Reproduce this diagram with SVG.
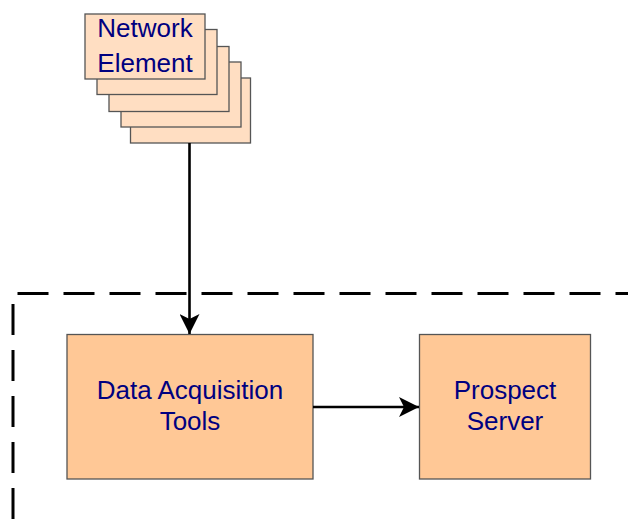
<svg xmlns="http://www.w3.org/2000/svg" width="628" height="519" viewBox="0 0 628 519">
<style>
.ne{fill:#FFDEC2;stroke:#555;stroke-width:1.3}
.box{fill:#FFC896;stroke:#555;stroke-width:1.3}
.t{font-family:"Liberation Sans",Arial,sans-serif;font-size:26px;fill:#000080;text-anchor:middle}
.c{stroke:#000;stroke-width:2.6;fill:none}
</style>
<defs>
<marker id="ah" markerUnits="userSpaceOnUse" markerWidth="20" markerHeight="20" viewBox="0 0 20 20" refX="20" refY="10" orient="auto">
<path d="M0,0 L20,10 L0,20 L5,10 Z" fill="#000"/>
</marker>
</defs>
<rect width="628" height="519" fill="#fff"/>
<g id="boundary">
<path d="M13,519 V293.5 H628" fill="none" stroke="#000" stroke-width="3" stroke-dasharray="31 15"/>
</g>
<g id="network-element">
<rect class="ne" x="130.5" y="78" width="120" height="65"/>
<rect class="ne" x="121" y="62" width="120" height="65"/>
<rect class="ne" x="109" y="46.5" width="120" height="65"/>
<rect class="ne" x="97" y="29.5" width="120" height="65"/>
<rect class="ne" x="85" y="14" width="120" height="65"/>
<text class="t" x="145" y="37">Network</text>
<text class="t" x="145" y="71.5">Element</text>
</g>
<g id="data-acquisition-tools">
<rect class="box" x="67" y="334.5" width="246" height="144.5"/>
<text class="t" x="190" y="399">Data Acquisition</text>
<text class="t" x="190" y="430">Tools</text>
</g>
<g id="prospect-server">
<rect class="box" x="419.5" y="334.5" width="171" height="144.5"/>
<text class="t" x="505" y="399">Prospect</text>
<text class="t" x="505" y="430">Server</text>
</g>
<g id="connectors">
<line class="c" x1="189.5" y1="143" x2="189.5" y2="334" marker-end="url(#ah)"/>
<line class="c" x1="313" y1="407" x2="419" y2="407" marker-end="url(#ah)"/>
</g>
</svg>
